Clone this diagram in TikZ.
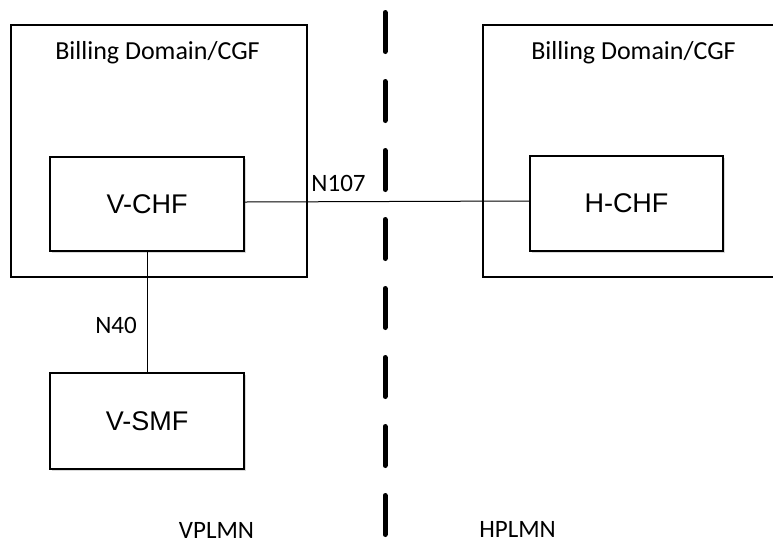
\documentclass[tikz,border=0pt]{standalone}
\usepackage{fontspec}
\setmainfont{Carlito}
\newfontfamily\arialfont{Liberation Sans}
\begin{document}
\begin{tikzpicture}[x=1pt,y=-1pt,
  domainbox/.style={draw=black,line width=1.5pt,inner sep=0pt,anchor=north west},
  nfbox/.style={draw=black,line width=1.8pt,fill=white,inner sep=0pt,anchor=center,
    font=\arialfont\fontsize{27}{30}\selectfont},
  lbl/.style={inner sep=0pt,anchor=base,font=\fontsize{25}{28}\selectfont},
  conn/.style={draw=black,line width=1pt}]
\useasboundingbox (0,0) rectangle (773,542);
% domains
\node[domainbox,minimum width=296pt,minimum height=252pt] (ldom) at (10,24) {};
\node[domainbox,minimum width=292pt,minimum height=252pt] (rdom) at (482,24) {};
\node[lbl,font=\fontsize{26}{28}\selectfont] (ltitle) at (157.5,59) {Billing Domain/CGF};
\node[lbl,font=\fontsize{26}{28}\selectfont] (rtitle) at (633.5,59) {Billing Domain/CGF};
% shadows
\fill[black!15] (52,159) rectangle (246,253);
\fill[black!15] (532,158) rectangle (725,253);
\fill[black!15] (52,375) rectangle (246,471);
% network functions
\node[nfbox,minimum width=194pt,minimum height=94pt] (vchf) at (147,204) {V-CHF};
\node[nfbox,minimum width=193pt,minimum height=95pt] (hchf) at (626.5,203.5) {H-CHF};
\node[nfbox,minimum width=194pt,minimum height=96pt] (vsmf) at (147,421) {V-SMF};
% connectors
\draw[conn] ([yshift=2pt]vchf.east) -- ([yshift=2.5pt]hchf.west);
\draw[conn] (vchf.south) -- (vsmf.north);
\node[lbl] (n107) at (338.5,191) {N107};
\node[lbl] (n40) at (116,333) {N40};
% border line
\coordinate (btop) at (385,12.5);
\coordinate (bbot) at (385,535.5);
\draw[line width=5pt,line cap=round,dash pattern=on 39pt off 30pt] (btop) -- (bbot);
\node[lbl] (vplmn) at (216.5,538) {VPLMN};
\node[lbl] (hplmn) at (517.5,537) {HPLMN};
\end{tikzpicture}
\end{document}
